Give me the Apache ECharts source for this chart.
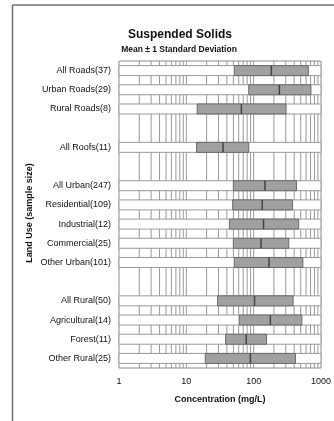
<!DOCTYPE html>
<html>
<head>
<meta charset="utf-8">
<script src="https://cdn.jsdelivr.net/npm/echarts@6/dist/echarts.min.js"></script>
<style>html,body{margin:0;padding:0;background:#fff}#c{width:334px;height:421px}</style>
</head>
<body>
<div id="c"></div>
<script>
// Categories ('' = blank spacer row)
var categories = ['All Roads(37)','Urban Roads(29)','Rural Roads(8)','','All Roofs(11)','','All Urban(247)','Residential(109)','Industrial(12)','Commercial(25)','Other Urban(101)','','All Rural(50)','Agricultural(14)','Forest(11)','Other Rural(25)'];
// mean - 1 SD, mean, mean + 1 SD (mg/L)
var lowValues  = [51.5, 84.5, 14.5, null, 14.2, null, 49.9, 48.8, 43.6, 49.9, 51.5, null, 29.1, 60.8, 38.3, 19.1];
var meanValues = [183, 241, 65.7, null, 35.1, null, 147, 134, 140, 128.5, 169, null, 103, 177, 77.5, 89.4];
var highValues = [649, 709, 303, null, 84.5, null, 432, 378, 466, 332, 538, null, 386, 520, 155, 418];
// axis extent and tick labels
var xMin = 1, xMax = 1000;
var tickLabels = ['1','10','100','1000'];
// vertical grid lines (log minor + major)
var gridValues = [2,3,4,5,6,7,8,9,10,20,30,40,50,60,70,80,90,100,200,300,400,500,600,700,800,900];

var FONT = '"Liberation Sans", Arial, sans-serif';
var chart = echarts.init(document.getElementById('c'));

var bandData = [], barData = [];
for (var i = 0; i < categories.length; i++) {
  if (categories[i] !== '') bandData.push([xMin, xMax, i]);
  if (meanValues[i] != null) barData.push([lowValues[i], highValues[i], i, meanValues[i]]);
}

chart.setOption({
  animation: false,
  grid: { left: 119, right: 7, top: 61, bottom: 53, show: true, borderColor: '#8a8a8a', borderWidth: 1, backgroundColor: 'transparent' },
  xAxis: {
    type: 'log', logBase: 10, min: xMin, max: xMax,
    axisLine: { show: false }, axisTick: { show: false },
    splitLine: { show: false },
    axisLabel: { fontFamily: FONT, fontSize: 9, color: '#111', margin: 9,
      formatter: function (v) { var s = String(Math.round(v)); return tickLabels.indexOf(s) >= 0 ? s : ''; } },
    name: 'Concentration (mg/L)', nameLocation: 'middle', nameGap: 27,
    nameTextStyle: { fontFamily: FONT, fontSize: 9, fontWeight: 'bold', color: '#111' }
  },
  yAxis: {
    type: 'category', data: categories, inverse: true,
    axisLine: { show: false }, axisTick: { show: false }, splitLine: { show: false },
    axisLabel: { fontFamily: FONT, fontSize: 9, color: '#111', margin: 8 }
  },
  graphic: [
    { type: 'line', shape: { x1: 12.5, y1: 5, x2: 334, y2: 5 }, style: { stroke: '#707070', lineWidth: 1.5 } },
    { type: 'line', shape: { x1: 12.5, y1: 5, x2: 12.5, y2: 421 }, style: { stroke: '#707070', lineWidth: 1.5 } },
    { type: 'text', x: 180, y: 35, style: { text: 'Suspended Solids', fontFamily: FONT, fontSize: 12, fontWeight: 'bold', fill: '#111', textAlign: 'center', textVerticalAlign: 'middle' } },
    { type: 'text', x: 179, y: 50, style: { text: 'Mean \u00b1 1 Standard Deviation', fontFamily: FONT, fontSize: 8.5, fontWeight: 'bold', fill: '#111', textAlign: 'center', textVerticalAlign: 'middle' } },
    { type: 'text', x: 30, y: 213, rotation: Math.PI / 2, style: { text: 'Land Use (sample size)', fontFamily: FONT, fontSize: 9, fontWeight: 'bold', fill: '#111', textAlign: 'center', textVerticalAlign: 'middle' } }
  ],
  series: [
    { // grid lines
      type: 'custom', z: 1, silent: true,
      data: gridValues,
      renderItem: function (params, api) {
        var cs = params.coordSys;
        var x = api.coord([api.value(0), 0])[0];
        return { type: 'line', shape: { x1: x, y1: cs.y, x2: x, y2: cs.y + cs.height }, style: { stroke: '#999', lineWidth: 1 } };
      },
      encode: { x: 0 }
    },
    { // white bands
      type: 'custom', z: 2, silent: true,
      data: bandData,
      renderItem: function (params, api) {
        var p0 = api.coord([api.value(0), api.value(2)]);
        var p1 = api.coord([api.value(1), api.value(2)]);
        var h = api.size([0, 1])[1] * 0.52;
        return { type: 'rect', shape: { x: p0[0], y: p0[1] - h / 2, width: p1[0] - p0[0], height: h }, style: { fill: '#fff', stroke: '#999', lineWidth: 1 } };
      },
      encode: { x: [0, 1], y: 2 }
    },
    { // mean ± SD bars
      type: 'custom', z: 3, silent: true,
      data: barData,
      renderItem: function (params, api) {
        var p0 = api.coord([api.value(0), api.value(2)]);
        var p1 = api.coord([api.value(1), api.value(2)]);
        var pm = api.coord([api.value(3), api.value(2)]);
        var h = api.size([0, 1])[1] * 0.52;
        return { type: 'group', children: [
          { type: 'rect', shape: { x: p0[0], y: p0[1] - h / 2, width: p1[0] - p0[0], height: h }, style: { fill: '#a0a0a0', stroke: '#6a6a6a', lineWidth: 1 } },
          { type: 'line', shape: { x1: pm[0], y1: pm[1] - h / 2, x2: pm[0], y2: pm[1] + h / 2 }, style: { stroke: '#444', lineWidth: 1.5 } }
        ] };
      },
      encode: { x: [0, 1], y: 2 }
    }
  ]
});
</script>
</body>
</html>
